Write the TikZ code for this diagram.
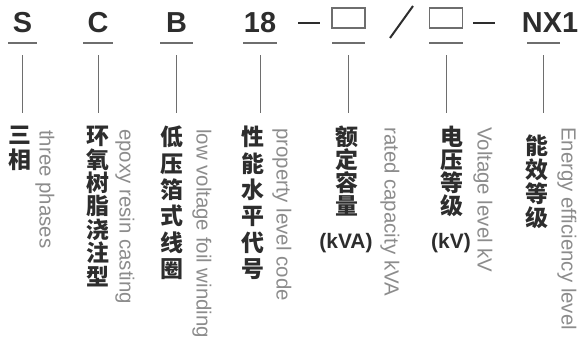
\documentclass[tikz,border=0pt]{standalone}
\usepackage{fontspec}
\setmainfont{Liberation Sans}
\newfontfamily\cjk{Noto Sans CJK SC}
\usetikzlibrary{positioning}
\definecolor{code_dark}{RGB}{45,45,45}
\definecolor{text_gray}{RGB}{140,140,140}
\definecolor{line_gray}{RGB}{110,110,110}

\begin{document}
\begin{tikzpicture}[x=1bp,y=-1bp]
    \tikzstyle{code}=[text=code_dark, font=\bfseries\fontsize{29}{29}\selectfont, inner sep=0pt, anchor=base]
    \tikzstyle{bar}=[draw=line_gray, line width=1.5bp]
    \tikzstyle{stem}=[draw=line_gray, line width=1bp]
    \tikzstyle{blank}=[draw=line_gray, line width=1.5bp, minimum width=33bp, minimum height=20bp, inner sep=0pt]
    \tikzstyle{joiner}=[draw=code_dark, line width=2.5bp]
    \tikzset{zh/.style={text=code_dark, font=\cjk\bfseries\fontsize{23}{#1}\selectfont, align=center, inner sep=0pt, anchor=north}}
    \tikzstyle{en}=[text=text_gray, font=\fontsize{20.5}{20.5}\selectfont, rotate=-90, anchor=west, inner sep=0pt]
    \tikzstyle{unit}=[text=code_dark, font=\bfseries\fontsize{21}{21}\selectfont, inner sep=0pt]

    \useasboundingbox (0,0) rectangle (579,346);

    % code letters
    \node[code] (S)  at (22.5,32)  {S};
    \node[code] (C)  at (98,32)    {C};
    \node[code] (B)  at (176.5,32) {B};
    \node[code] (N)  at (260,32)   {18};
    \node[blank] (kva) at (348.5,18) {};
    \node[blank] (kv)  at (446,18)   {};
    \node[code] (NX) at (550,32)   {NX1};

    % joiners
    \coordinate (j1a) at (298,23); \coordinate (j1b) at (320,23);
    \coordinate (j2a) at (473,23); \coordinate (j2b) at (495,23);
    \coordinate (sla) at (390,38); \coordinate (slb) at (413,6);
    \path
     (j1a) edge[joiner] (j1b)
     (j2a) edge[joiner] (j2b)
     (sla) edge[draw=code_dark, line width=2bp] (slb)
     ;

    % underlines and stems
    \foreach \n/\x/\w in {s/22.5/29, c/98/30, b/176.5/33, n/260/34, kva/348.5/33, kv/446/34, nx/543.5/33}{
      \coordinate (\n l) at (\x-\w/2,43);
      \coordinate (\n r) at (\x+\w/2,43);
      \coordinate (\n t) at (\x,55);
      \coordinate (\n b) at (\x,113);
      \draw[bar] (\n l) -- (\n r);
      \draw[stem] (\n t) -- (\n b);
    }

    % chinese labels
    \node[zh=25]   (zs)   at (20,126)  {三\\相};
    \node[zh=23.5] (zc)   at (98,126)  {环\\氧\\树\\脂\\浇\\注\\型};
    \node[zh=26.4] (zb)   at (172,126) {低\\压\\箔\\式\\线\\圈};
    \node[zh=26.4] (zn)   at (253,126) {性\\能\\水\\平\\代\\号};
    \node[zh=23]   (zkva) at (347,126) {额\\定\\容\\量};
    \node[zh=23]   (zkv)  at (452,126) {电\\压\\等\\级};
    \node[zh=24]   (znx)  at (537,135) {能\\效\\等\\级};
    \node[unit] (ukva) at (346,243) {(kVA)};
    \node[unit] (ukv)  at (451,243) {(kV)};

    % english labels
    \node[en] (es)   at (45,130)  {three phases};
    \node[en] (ec)   at (125,129) {epoxy resin casting};
    \node[en] (eb)   at (202,129) {low voltage foil winding};
    \node[en] (en)   at (282,128) {property level code};
    \node[en] (ekva) at (390,127) {rated capacity kVA};
    \node[en] (ekv)  at (483,127) {Voltage level kV};
    \node[en] (enx)  at (567,127) {Energy efficiency level};
\end{tikzpicture}
\end{document}
